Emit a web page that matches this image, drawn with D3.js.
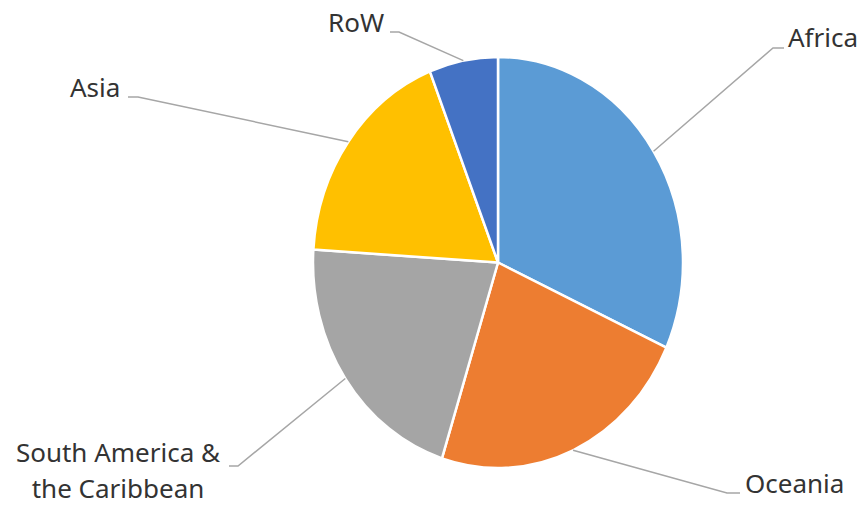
<!DOCTYPE html>
<html>
<head>
<meta charset="utf-8">
<script src="https://cdn.jsdelivr.net/npm/d3@7"></script>
<style>
  html, body { margin: 0; padding: 0; background: #fff; }
  svg { display: block; }
</style>
</head>
<body>
<svg id="chart" width="861" height="506"></svg>
<script>
// Share of total by region (percent), clockwise from 12 o'clock
const regions = ["Africa", "Oceania", "South America & the Caribbean", "Asia", "RoW"];
const shares = [31.8, 23.1, 21.1, 18.0, 6.0];
const labelLines = [["Africa"], ["Oceania"], ["South America &", "the Caribbean"], ["Asia"], ["RoW"]];
const colors = ["#5b9bd5", "#ed7d31", "#a5a5a5", "#ffc000", "#4472c4"];

// Layout: pie ellipse and label placement
const W = 861, H = 506;
const cx = 498, cy = 262.5, rx = 185, ry = 205.5;
const sy = ry / rx;
const labelLayout = [
  { x: 788, y: 47, anchor: "start", elbow: [773, 48], end: [784, 48] },
  { x: 745, y: 493, anchor: "start", elbow: [727, 493], end: [740, 493] },
  { x: 118, y: 462, anchor: "middle", elbow: [238, 466], end: [229, 466], lineGap: 35.5 },
  { x: 70, y: 97, anchor: "start", elbow: [138, 97], end: [128, 97] },
  { x: 328, y: 32, anchor: "start", elbow: [399, 32], end: [390, 32] }
];

const svg = d3.select("#chart");
svg.append("rect").attr("width", W).attr("height", H).attr("fill", "#fff");

const data = regions.map((r, i) => ({ region: r, value: shares[i], idx: i }));
const pie = d3.pie().value(d => d.value).sort(null).startAngle(0).endAngle(2 * Math.PI);
const arcs = pie(data);
const arc = d3.arc().innerRadius(0).outerRadius(rx);

const g = svg.append("g").attr("transform", `translate(${cx},${cy}) scale(1,${sy})`);
g.selectAll("path.slice")
  .data(arcs)
  .join("path")
  .attr("class", "slice")
  .attr("d", arc)
  .attr("fill", d => colors[d.data.idx])
  .attr("stroke", "#fff")
  .attr("stroke-width", 2.5)
  .attr("stroke-linejoin", "round")
  .attr("vector-effect", "non-scaling-stroke");

// Leader lines from slice midpoints on the rim to the labels
const leaders = svg.append("g");
arcs.forEach(d => {
  const mid = (d.startAngle + d.endAngle) / 2;
  const px = cx + rx * Math.sin(mid);
  const py = cy - rx * Math.cos(mid) * sy;
  const L = labelLayout[d.data.idx];
  leaders.append("path")
    .attr("d", d3.line()([[px, py], L.elbow, L.end]))
    .attr("fill", "none")
    .attr("stroke", "#a6a6a6")
    .attr("stroke-width", 1.5);
});

const labels = svg.append("g")
  .attr("font-family", "'Noto Sans', 'Open Sans', sans-serif")
  .attr("font-size", 26)
  .attr("fill", "#333333");
arcs.forEach(d => {
  const L = labelLayout[d.data.idx];
  const t = labels.append("text")
    .attr("text-anchor", L.anchor)
    .attr("x", L.x).attr("y", L.y);
  labelLines[d.data.idx].forEach((line, k) => {
    t.append("tspan").attr("x", L.x).attr("y", L.y + k * (L.lineGap || 0)).text(line);
  });
});
</script>
</body>
</html>
